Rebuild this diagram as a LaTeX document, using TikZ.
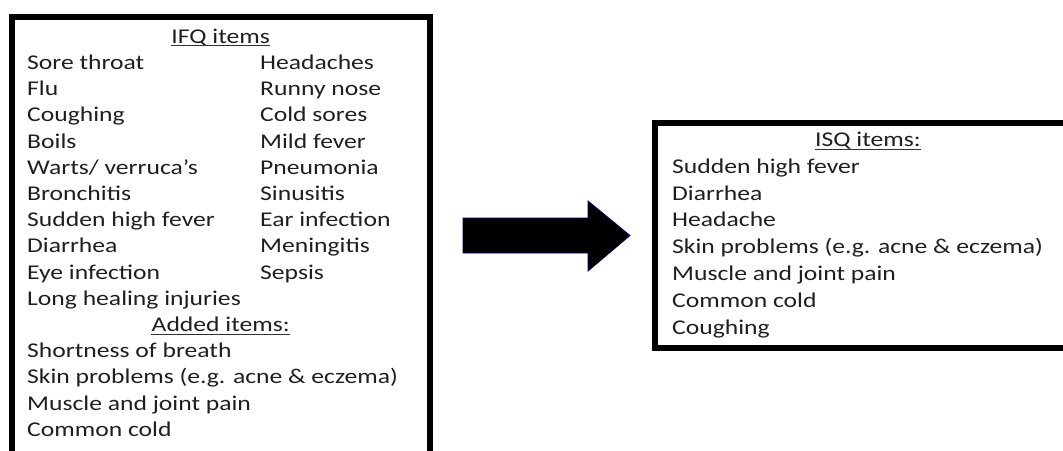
\documentclass[tikz,border=0pt]{standalone}
\usepackage{fontspec}
\setmainfont{Carlito}[FakeStretch=1.22]
\begin{document}
\begin{tikzpicture}[x=1pt,y=-1pt,
  txt/.style={inner sep=0pt,anchor=base west,font=\fontsize{21}{25}\selectfont,text=black!88},
  hdr/.style={inner sep=0pt,anchor=base,font=\fontsize{21}{25}\selectfont,text=black!88},
  frame/.style={draw=black,line width=6pt},
  uline/.style={line width=1.1pt,black!80}]
\useasboundingbox (0,0) rectangle (1063,450);
\clip (0,0) rectangle (1063,450);
% left box
\draw[frame] (11.5,16.5) rectangle (430,480);
\node[hdr] (ifq) at (220.7,43.3) {IFQ items};
\draw[uline] ([yshift=-2.6pt]ifq.base west) -- ([yshift=-2.6pt]ifq.base east);
\foreach \t [count=\i] in {Sore throat,Flu,Coughing,Boils,Warts/ verruca’s,Bronchitis,Sudden high fever,Diarrhea,Eye infection,Long healing injuries}
  \node[txt] (l\i) at (27,43.3+26.2*\i) {\t};
\foreach \t [count=\i] in {Headaches,Runny nose,Cold sores,Mild fever,Pneumonia,Sinusitis,Ear infection,Meningitis,Sepsis}
  \node[txt] (r\i) at (260,43.3+26.2*\i) {\t};
\node[hdr] (added) at (220.7,43.3+26.2*11) {Added items:};
\draw[uline] ([yshift=-2.6pt]added.base west) -- ([yshift=-2.6pt]added.base east);
\foreach \t [count=\i] in {Shortness of breath,Skin problems (e.g. acne \& eczema),Muscle and joint pain,Common cold}
  \node[txt] (a\i) at (27,43.3+26.2*11+26.2*\i) {\t};
% arrow
\filldraw[fill=black,draw=blue!40!black,line width=0.8pt]
  (463,218) -- (588,218) -- (588,201) -- (630,235.5) -- (588,271) -- (588,253) -- (463,253) -- cycle;
% right box
\draw[frame] (655,122.5) rectangle (1081,347.5);
\node[hdr] (isq) at (868,146.5) {ISQ items:};
\draw[uline] ([yshift=-2.6pt]isq.base west) -- ([yshift=-2.6pt]isq.base east);
\foreach \t [count=\i] in {Sudden high fever,Diarrhea,Headache,Skin problems (e.g. acne \& eczema),Muscle and joint pain,Common cold,Coughing}
  \node[txt] (s\i) at (672,146.5+26.8*\i) {\t};
\end{tikzpicture}
\end{document}
